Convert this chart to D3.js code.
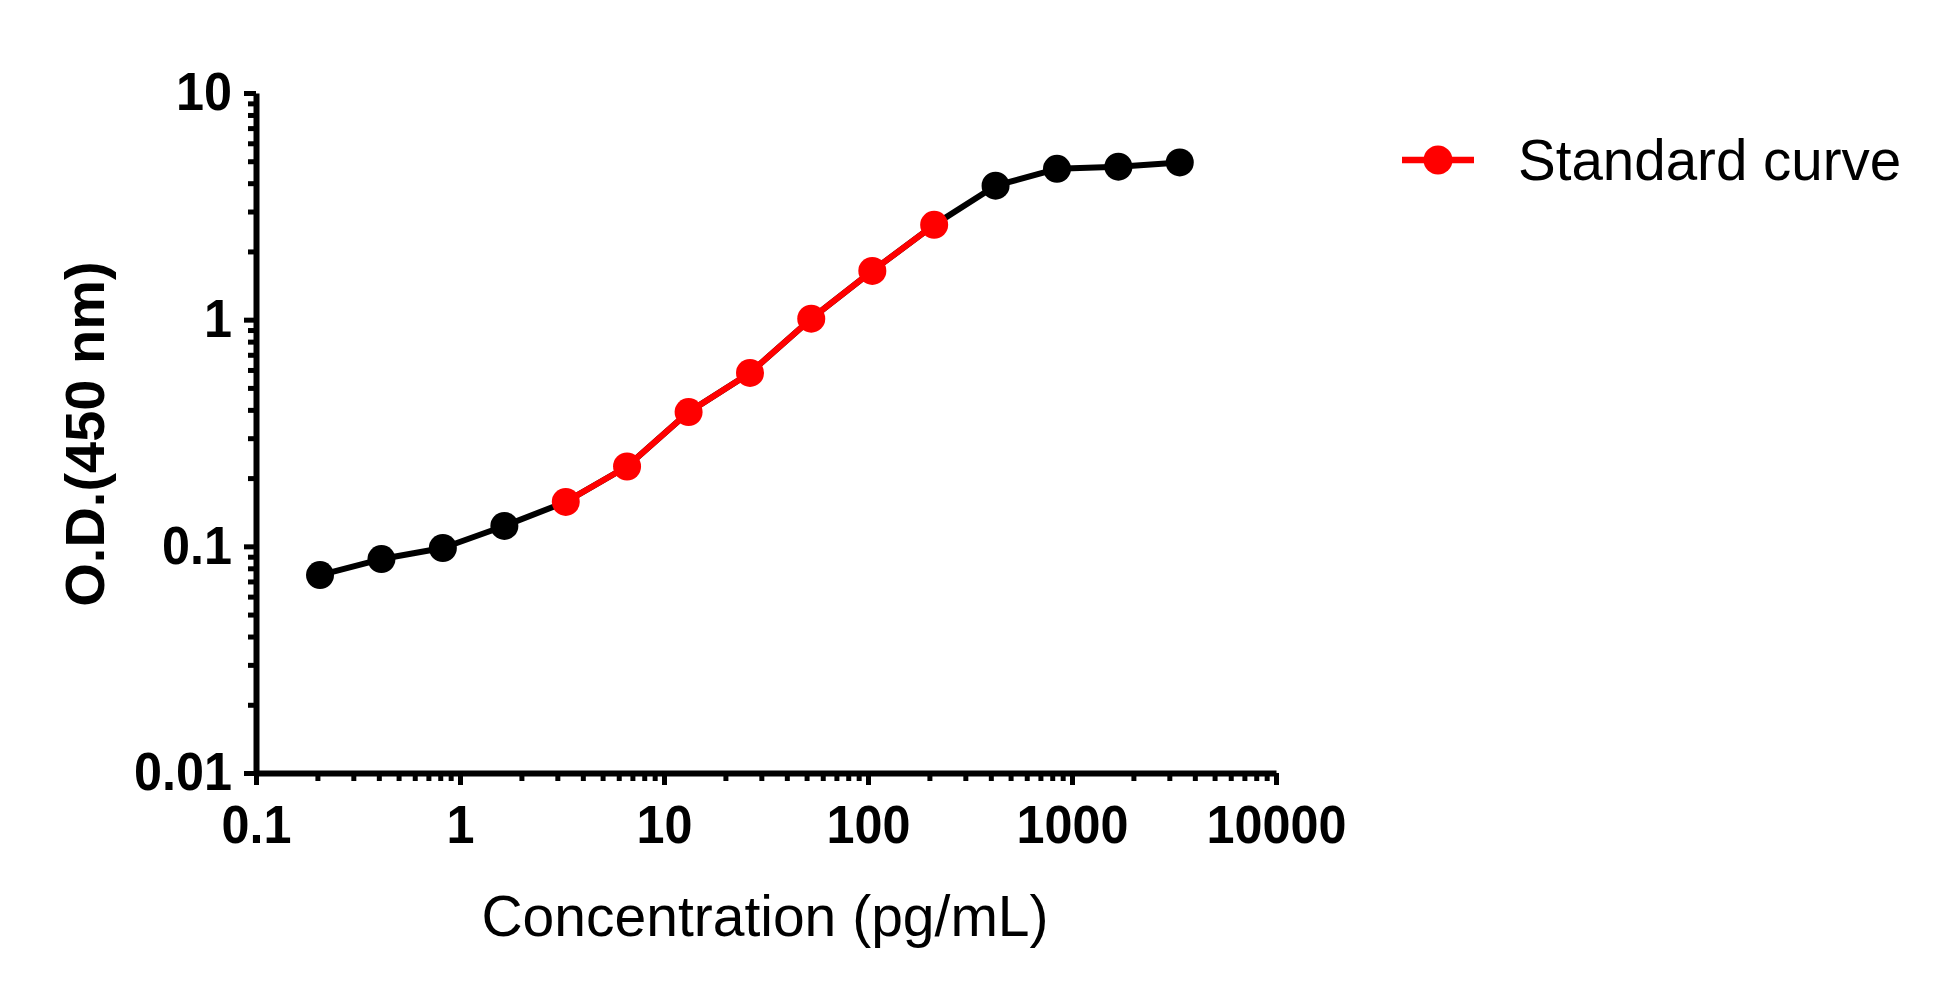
<!DOCTYPE html>
<html>
<head>
<meta charset="utf-8">
<script src="https://cdn.jsdelivr.net/npm/d3@7"></script>
<style>
  html, body { margin: 0; padding: 0; background: #fff; }
  svg { display: block; }
  text { font-family: "Liberation Sans", Arial, Helvetica, sans-serif; fill: #000; }
</style>
</head>
<body>
<svg id="chart" width="1946" height="998"></svg>
<script>
// ---- data ----
const concentrations = [0.206, 0.412, 0.824, 1.65, 3.30, 6.59, 13.2, 26.4, 52.7, 105, 211, 422, 844, 1688, 3375];
const odValues       = [0.0747, 0.0879, 0.0983, 0.123, 0.157, 0.225, 0.391, 0.582, 1.01, 1.64, 2.62, 3.90, 4.63, 4.73, 4.94];
const inStandardRange = [false, false, false, false, true, true, true, true, true, true, true, false, false, false, false];

const xMajorTicks = [0.1, 1, 10, 100, 1000, 10000];
const xTickLabels = ["0.1", "1", "10", "100", "1000", "10000"];
const yMajorTicks = [0.01, 0.1, 1, 10];
const yTickLabels = ["0.01", "0.1", "1", "10"];

const xTitle = "Concentration (pg/mL)";
const yTitle = "O.D.(450 nm)";
const legendLabel = "Standard curve";

// ---- layout ----
const svg = d3.select("#chart");
const x = d3.scaleLog().domain([0.1, 10000]).range([256, 1276]);
const y = d3.scaleLog().domain([0.01, 10]).range([773, 93]);

function minorTicks(domain) {
  const out = [];
  for (let e = Math.round(Math.log10(domain[0])); e < Math.round(Math.log10(domain[1])); e++) {
    for (let m = 2; m <= 9; m++) out.push(m * Math.pow(10, e));
  }
  return out;
}

const axisColor = "#000";

// reference tick glyphs are a little narrower than Liberation Sans Bold
function styleTickText(sel) {
  sel.each(function () {
    const t = d3.select(this);
    const tx = +t.attr("x") || 0, ty = +t.attr("y") || 0;
    t.attr("x", 0).attr("y", 0)
     .attr("transform", `translate(${tx},${ty}) scale(0.95,1)`);
  })
  .attr("font-size", 53).attr("font-weight", "bold")
  .attr("font-family", "'Liberation Sans', Arial, sans-serif").attr("fill", "#000");
}

// Y axis minor ticks
svg.append("g").attr("transform", "translate(256,0)")
  .call(d3.axisLeft(y).tickValues(minorTicks(y.domain())).tickSize(8).tickFormat(""))
  .call(g => g.select(".domain").remove())
  .call(g => g.selectAll(".tick line").attr("stroke", axisColor).attr("stroke-width", 5));

// X axis minor ticks
svg.append("g").attr("transform", "translate(0,773)")
  .call(d3.axisBottom(x).tickValues(minorTicks(x.domain())).tickSize(8).tickFormat(""))
  .call(g => g.select(".domain").remove())
  .call(g => g.selectAll(".tick line").attr("stroke", axisColor).attr("stroke-width", 5));

// Y axis major
svg.append("g").attr("transform", "translate(256,0)")
  .call(d3.axisLeft(y).tickValues(yMajorTicks).tickSize(12).tickSizeOuter(0).tickPadding(12)
    .tickFormat((d, i) => yTickLabels[i]))
  .call(g => g.select(".domain").attr("stroke", axisColor).attr("stroke-width", 6))
  .call(g => g.selectAll(".tick line").attr("stroke", axisColor).attr("stroke-width", 5))
  .call(g => styleTickText(g.selectAll(".tick text")));

// X axis major
svg.append("g").attr("transform", "translate(0,773)")
  .call(d3.axisBottom(x).tickValues(xMajorTicks).tickSize(12).tickSizeOuter(0).tickPadding(20)
    .tickFormat((d, i) => xTickLabels[i]))
  .call(g => g.select(".domain").attr("stroke", axisColor).attr("stroke-width", 6))
  .call(g => g.selectAll(".tick line").attr("stroke", axisColor).attr("stroke-width", 5))
  .call(g => styleTickText(g.selectAll(".tick text")));

// Titles
svg.append("text")
  .attr("x", 765).attr("y", 936)
  .attr("text-anchor", "middle")
  .attr("font-size", 57)
  .text(xTitle);

svg.append("text")
  .attr("transform", "translate(104,434) rotate(-90)")
  .attr("text-anchor", "middle")
  .attr("font-size", 56)
  .attr("font-weight", "bold")
  .text(yTitle);

// ---- data ----
const pts = concentrations.map((c, i) => ({ c, v: odValues[i], red: inStandardRange[i] }));
const line = d3.line().x(d => x(d.c)).y(d => y(d.v));

svg.append("path").datum(pts)
  .attr("d", line).attr("fill", "none").attr("stroke", "#000").attr("stroke-width", 6)
  .attr("stroke-linejoin", "round");

svg.append("path").datum(pts.filter(d => d.red))
  .attr("d", line).attr("fill", "none").attr("stroke", "#ff0000").attr("stroke-width", 6)
  .attr("stroke-linejoin", "round");

svg.append("g").selectAll("circle").data(pts).join("circle")
  .attr("cx", d => x(d.c)).attr("cy", d => y(d.v)).attr("r", 14)
  .attr("fill", d => d.red ? "#ff0000" : "#000");

// ---- legend ----
const lg = svg.append("g").attr("transform", "translate(1402,160)");
lg.append("line").attr("x1", 0).attr("x2", 72).attr("y1", 0).attr("y2", 0)
  .attr("stroke", "#ff0000").attr("stroke-width", 6.5);
lg.append("circle").attr("cx", 36).attr("cy", 0).attr("r", 14.5).attr("fill", "#ff0000");
lg.append("text").attr("x", 116).attr("y", 20).attr("font-size", 56.5).text(legendLabel);
</script>
</body>
</html>
